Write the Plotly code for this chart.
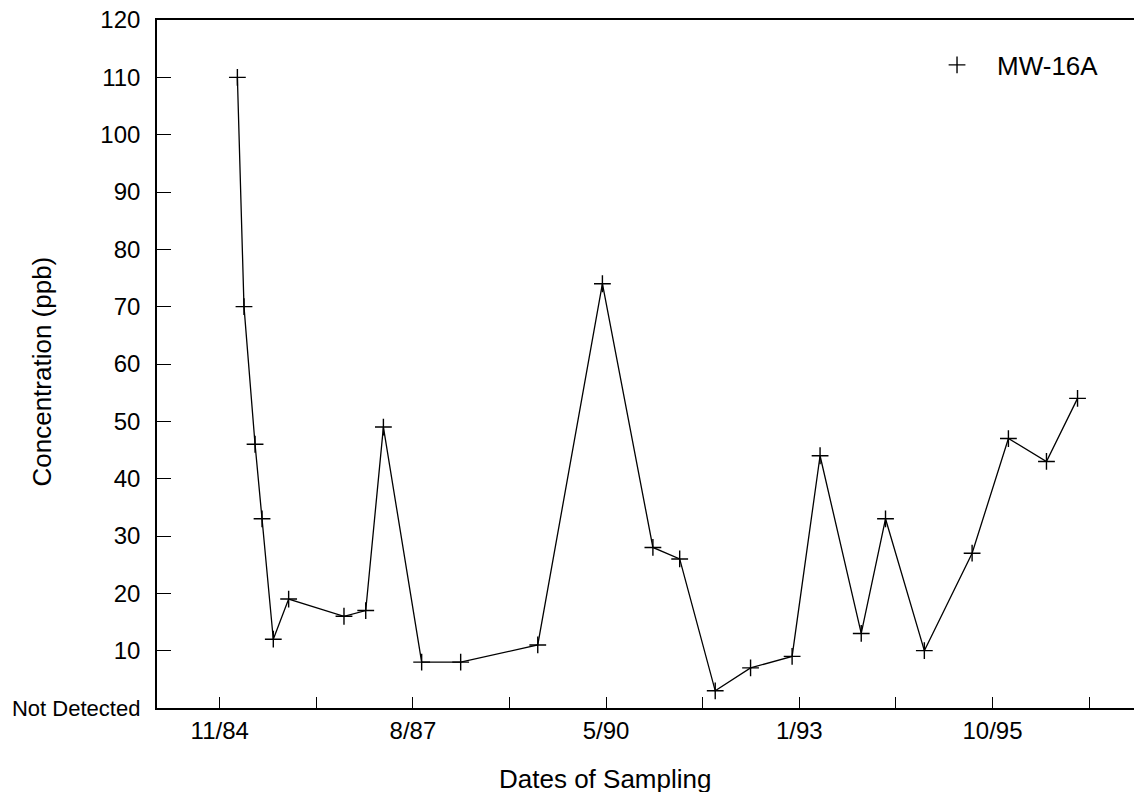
import plotly.graph_objects as go

# ---- data ----
sample_dates = [
    "1985-02-19", "1985-03-25", "1985-05-21", "1985-06-26", "1985-08-23",
    "1985-11-10", "1986-08-22", "1986-12-12", "1987-03-13", "1987-09-26",
    "1988-04-14", "1989-05-16", "1990-04-14", "1990-12-30", "1991-05-17",
    "1991-11-16", "1992-05-16", "1992-12-16", "1993-05-09", "1993-12-07",
    "1994-04-11", "1994-10-28", "1995-07-01", "1996-01-04", "1996-07-18",
    "1996-12-25",
]
concentration = [
    110, 70, 46, 33, 12,
    19, 16, 17, 49, 8,
    8, 11, 74, 28, 26,
    3, 7, 9, 44, 13,
    33, 10, 27, 47, 43,
    54,
]
series_name = "MW-16A"

x_tick_dates = [
    "1984-11-20", "1986-04-02", "1987-08-12", "1988-12-22", "1990-05-03",
    "1991-09-12", "1993-01-22", "1994-06-03", "1995-10-14", "1997-02-24",
]
x_tick_labels = ["11/84", "", "8/87", "", "5/90", "", "1/93", "", "10/95", ""]

y_tick_vals = [0, 10, 20, 30, 40, 50, 60, 70, 80, 90, 100, 110, 120]
y_tick_labels = ['<span style="font-size:22px">Not Detected</span>',
                 "10", "20", "30", "40", "50", "60", "70",
                 "80", "90", "100", "110", "120"]

FONT = "Liberation Sans, Arial, Helvetica, sans-serif"

fig = go.Figure()
fig.add_trace(go.Scatter(
    x=sample_dates, y=concentration, mode="lines+markers",
    line=dict(color="black", width=1.3),
    marker=dict(symbol="cross-thin", size=12, line=dict(color="black", width=1.4)),
    showlegend=False, name=series_name,
))
# legend entry showing marker only
fig.add_trace(go.Scatter(
    x=[None], y=[None], mode="markers", name=series_name,
    marker=dict(symbol="cross-thin", size=12, line=dict(color="black", width=1.4)),
    showlegend=True,
))

fig.update_layout(
    width=1142, height=792,
    margin=dict(l=149, r=8, t=12, b=92, autoexpand=False),
    paper_bgcolor="white", plot_bgcolor="white",
    font=dict(family=FONT, color="black"),
    legend=dict(x=0.7716, y=0.9346, xanchor="left", yanchor="middle",
                itemwidth=70, font=dict(size=26, family=FONT),
                bgcolor="rgba(0,0,0,0)"),
    xaxis=dict(
        type="date", range=["1984-01-02", "1997-11-22"],
        tickmode="array", tickvals=x_tick_dates, ticktext=x_tick_labels,
        ticks="inside", ticklen=11, tickwidth=1.2, tickcolor="black",
        showline=True, linecolor="black", linewidth=1.6, mirror=True,
        showgrid=False, zeroline=False, automargin=False,
        tickfont=dict(size=24, family=FONT),
        ticklabelstandoff=0, ticklabeloverflow="allow",
    ),
    yaxis=dict(
        range=[0, 120],
        tickmode="array", tickvals=y_tick_vals, ticktext=y_tick_labels,
        ticks="inside", ticklen=14, tickwidth=1.2, tickcolor="black",
        showline=True, linecolor="black", linewidth=1.6,
        showgrid=False, zeroline=False, automargin=False,
        tickfont=dict(size=24, family=FONT),
        ticklabelstandoff=10, ticklabeloverflow="allow",
    ),
    annotations=[
        dict(text="Dates of Sampling", xref="paper", yref="paper",
             x=0.455, y=0, xanchor="center", yanchor="top", yshift=-54,
             showarrow=False, font=dict(size=26, family=FONT)),
        dict(text="Concentration (ppb)", xref="paper", yref="paper",
             x=-0.1168, y=0.489, xanchor="center", yanchor="middle",
             textangle=-90, showarrow=False, font=dict(size=26, family=FONT)),
    ],
)

fig.write_html("out.html")
